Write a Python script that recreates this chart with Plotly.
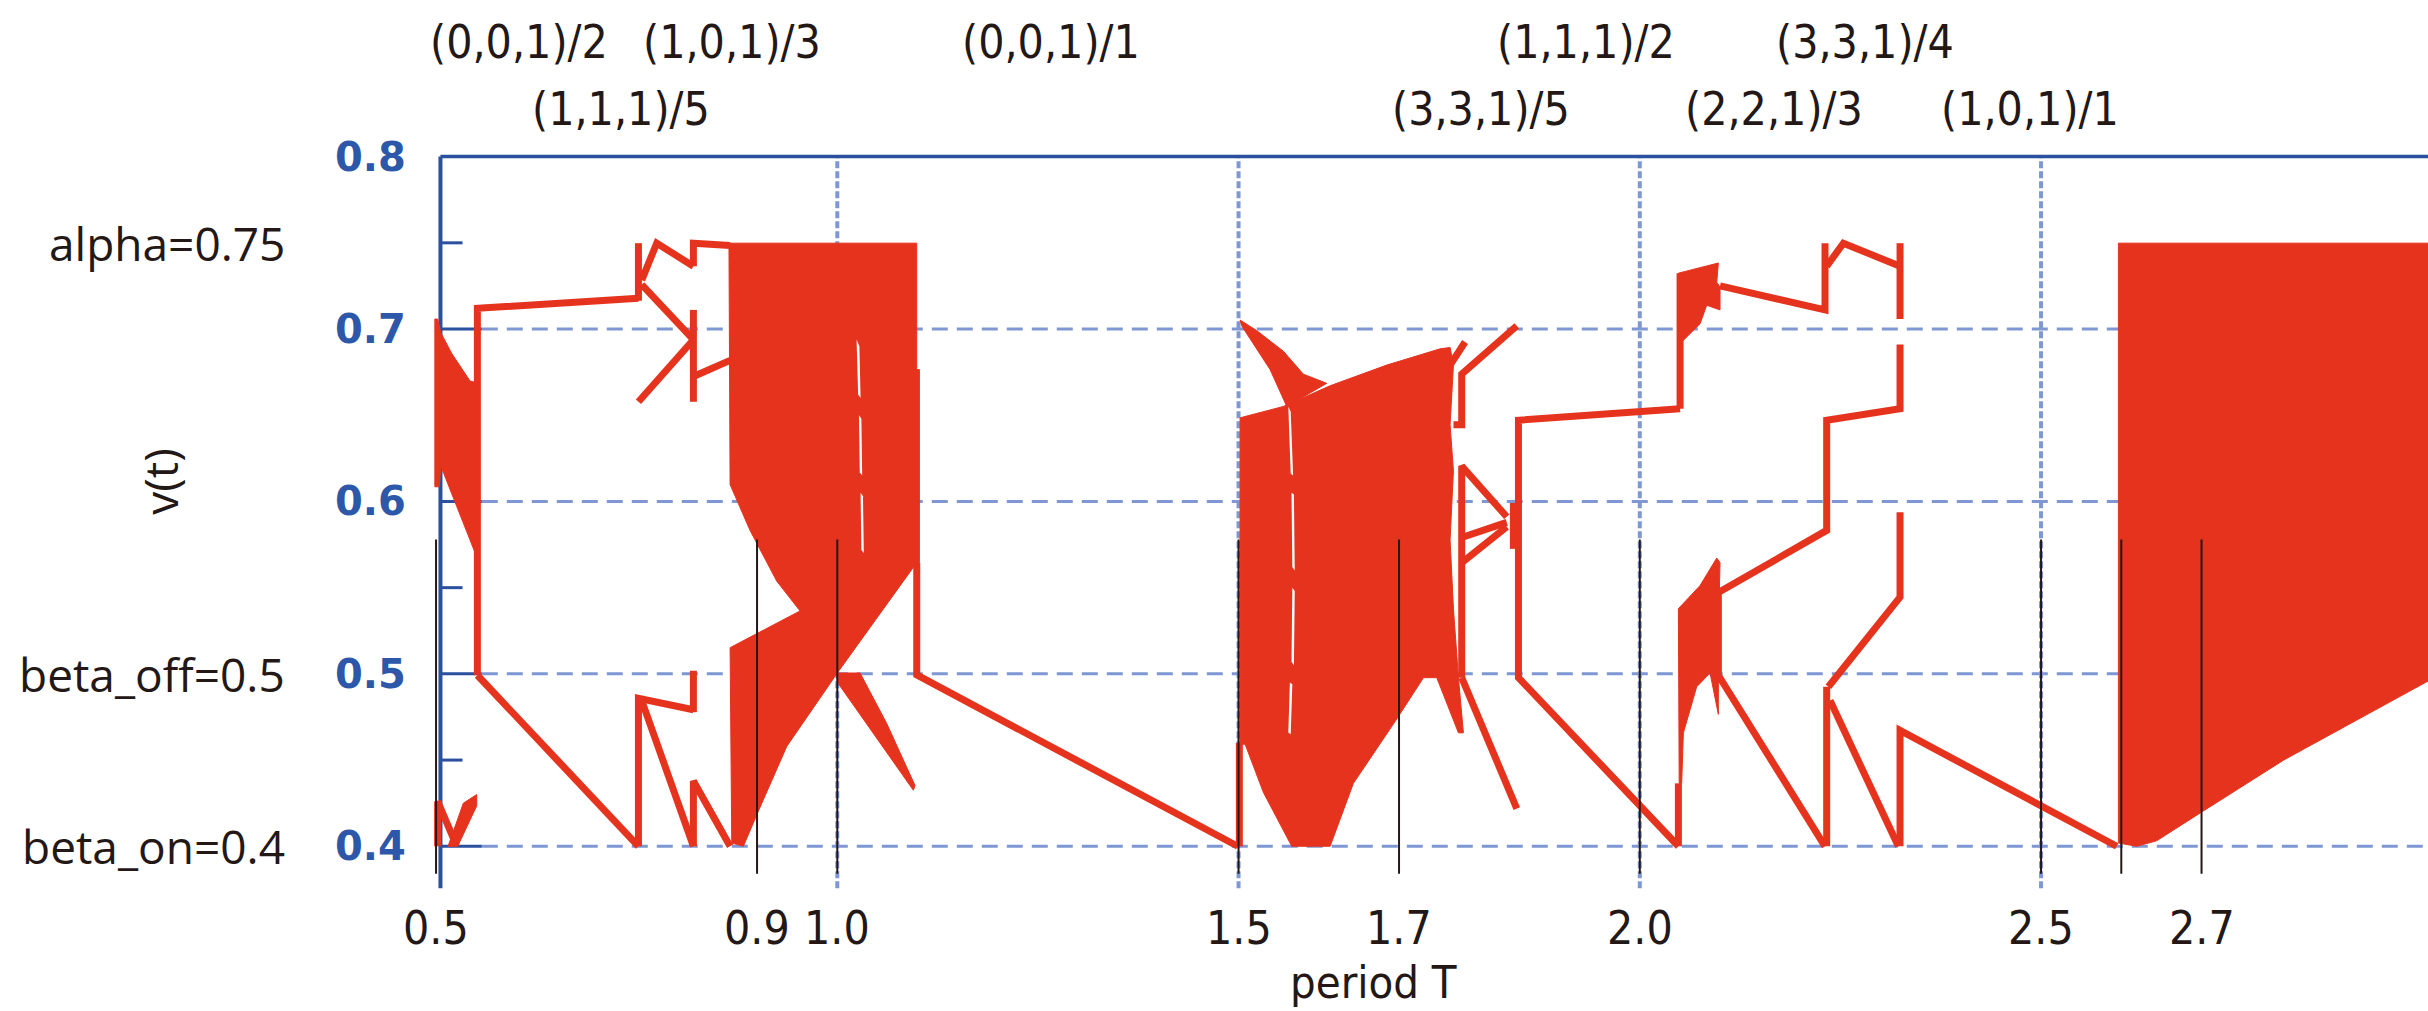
import plotly.graph_objects as go

# ---------------- data ----------------
RED = "#E6331E"

# chaotic bands (polygons: period T, v)
chaos_a = [(0.4985,0.7058),(0.5020,0.7058),(0.5060,0.6978),(0.5196,0.6858),(0.5424,0.6698),
           (0.5535,0.6685),(0.5535,0.5698),(0.5490,0.5698),(0.5060,0.6205),(0.5040,0.6085),(0.4985,0.6085)]
chaos_b = [(0.5150,0.4000),(0.5340,0.4250),(0.5507,0.4300),(0.5507,0.4235),(0.5270,0.4000)]
chaos_c = [(0.8650,0.7498),(1.0990,0.7498),(1.0990,0.6765),(1.1023,0.6765),(1.1023,0.5645),
           (1.0969,0.5632),(1.0000,0.5005),(0.9370,0.4579),(0.9017,0.4205),(0.8830,0.4000),
           (0.8685,0.4019),(0.8664,0.5152),(0.9536,0.5365),(0.9245,0.5538),(0.8913,0.5832),(0.8664,0.6098)]
chaos_d = [(1.0000,0.5005),(1.0284,0.5005),(1.0616,0.4712),(1.0969,0.4352),(1.0948,0.4325),(1.0000,0.4952)]
chaos_e = [(1.5019,0.6485),(1.5559,0.6551),(1.6141,0.6671),(1.6847,0.6791),(1.7511,0.6885),
           (1.7636,0.6893),(1.7678,0.6791),(1.7636,0.6445),(1.7678,0.6178),(1.7636,0.5778),
           (1.7678,0.5378),(1.7740,0.4978),(1.7802,0.4658),(1.7740,0.4658),(1.7470,0.4978),
           (1.7304,0.4978),(1.6971,0.4738),(1.6431,0.4365),(1.6141,0.4000),(1.5663,0.4000),
           (1.5310,0.4312),(1.5082,0.4592),(1.5019,0.4592)]
chaos_e_spike = [(1.5019,0.7052),(1.5226,0.6991),(1.5559,0.6871),(1.5808,0.6738),(1.6099,0.6685),
                 (1.5601,0.6551),(1.5393,0.6765),(1.5040,0.7018)]
chaos_f_up = [(2.0481,0.7324),(2.0834,0.7364),(2.0979,0.7383),(2.0959,0.7271),(2.1000,0.7244),
              (2.1000,0.7111),(2.0834,0.7138),(2.0751,0.7031),(2.0522,0.6925),(2.0481,0.6925)]
chaos_f_low = [(2.0481,0.5378),(2.0751,0.5512),(2.0959,0.5672),(2.1000,0.5645),(2.0979,0.5245),
               (2.0979,0.4765),(2.0876,0.5005),(2.0709,0.4925),(2.0543,0.4658),(2.0522,0.4365),(2.0491,0.4365)]
chaos_g = [(2.5964,0.7498),(2.9900,0.7498),(2.9900,0.4978),(2.8850,0.4712),(2.8020,0.4499),
           (2.7023,0.4205),(2.6441,0.4032),(2.6192,0.4000),(2.5964,0.4019)]

# white gaps inside chaotic bands (broken streaks)
gaps_c = [
    [(1.0240,0.6940),(1.0275,0.6900),(1.0290,0.6600),(1.0260,0.6620)],
    [(1.0270,0.6500),(1.0300,0.6480),(1.0310,0.6150),(1.0280,0.6170)],
    [(1.0290,0.6050),(1.0320,0.6030),(1.0330,0.5700),(1.0300,0.5720)],
]
gaps_e = [
    [(1.5620,0.6550),(1.5650,0.6520),(1.5680,0.6150),(1.5650,0.6160)],
    [(1.5660,0.6050),(1.5690,0.6040),(1.5700,0.5600),(1.5670,0.5620)],
    [(1.5670,0.5500),(1.5700,0.5480),(1.5690,0.5050),(1.5660,0.5070)],
    [(1.5640,0.4950),(1.5670,0.4940),(1.5650,0.4650),(1.5620,0.4660)],
]

# periodic branches (polylines)
branches_055_087 = [
    [(0.502,0.400),(0.502,0.426),(0.525,0.401)],
    [(0.5515,0.4992),(0.5515,0.7120),(0.7522,0.7178)],
    [(0.5515,0.4992),(0.7522,0.4000)],
    [(0.7522,0.4000),(0.7522,0.4858),(0.8207,0.4792)],
    [(0.7563,0.4845),(0.8207,0.4000)],
    [(0.8207,0.4000),(0.8207,0.4379),(0.8664,0.4000)],
    [(0.8207,0.4778),(0.8207,0.5018)],
    [(0.7522,0.7164),(0.7522,0.7498)],
    [(0.7563,0.7284),(0.7750,0.7498),(0.8207,0.7364)],
    [(0.8207,0.7364),(0.8207,0.7498),(0.8664,0.7484)],
    [(0.7563,0.7257),(0.8207,0.6938)],
    [(0.7522,0.6578),(0.8207,0.6938)],
    [(0.8207,0.6578),(0.8207,0.7111)],
    [(0.8207,0.6725),(0.8664,0.6818)],
]
branches_110_150 = [
    [(1.0990,0.5645),(1.0990,0.4994),(1.4990,0.4000)],
    [(1.5010,0.4000),(1.5010,0.4600)],
]
branches_176_205 = [
    [(1.7636,0.6791),(1.7823,0.6925)],
    [(1.7678,0.6445),(1.7781,0.6445),(1.7781,0.6738),(1.8467,0.7018)],
    [(1.7781,0.4978),(1.7781,0.6205),(1.8342,0.5911)],
    [(1.7781,0.5791),(1.8342,0.5879)],
    [(1.7781,0.5645),(1.8342,0.5853)],
    [(1.8425,0.5725),(1.8425,0.5991)],
    [(2.0502,0.6538),(1.8488,0.6471),(1.8488,0.4978),(2.0481,0.4000)],
    [(1.7781,0.4978),(1.8467,0.4219)],
]
branches_205_260 = [
    [(2.0481,0.4000),(2.0481,0.4365)],
    [(2.0502,0.6538),(2.0502,0.7324)],
    [(2.1000,0.7250),(2.2308,0.7111),(2.2308,0.7498)],
    [(2.2329,0.7364),(2.2537,0.7498),(2.3243,0.7364)],
    [(2.3243,0.7058),(2.3243,0.7498)],
    [(2.3243,0.6911),(2.3243,0.6538),(2.2329,0.6471),(2.2329,0.5832),(2.0979,0.5472),(2.0979,0.4992),(2.2308,0.4000)],
    [(2.3243,0.5938),(2.3243,0.5445),(2.2350,0.4925)],
    [(2.2329,0.4000),(2.2329,0.4925)],
    [(2.2371,0.4845),(2.3222,0.4000)],
    [(2.3243,0.4000),(2.3243,0.4672),(2.5943,0.4000)],
]

# axes / labels
y_ticks = [0.4, 0.5, 0.6, 0.7, 0.8]
y_minor = [0.45, 0.55, 0.65, 0.75]
x_grid = [1.0, 1.5, 2.0, 2.5]
x_labels = [0.5, 0.9, 1.0, 1.5, 1.7, 2.0, 2.5, 2.7]
x_marks = [0.5, 0.9, 1.0, 1.5, 1.7, 2.0, 2.5, 2.6, 2.7]
level_labels = [("alpha=0.75", 0.75), ("beta_off=0.5", 0.5), ("beta_on=0.4", 0.4)]
top_row1 = [("(0,0,1)/2", 0.6034), ("(1,0,1)/3", 0.8688), ("(0,0,1)/1", 1.2664),
            ("(1,1,1)/2", 1.9330), ("(3,3,1)/4", 2.2807)]
top_row2 = [("(1,1,1)/5", 0.7305), ("(3,3,1)/5", 1.8022), ("(2,2,1)/3", 2.1673), ("(1,0,1)/1", 2.4863)]

# ---------------- figure ----------------
X0, X1 = 0.48, 2.9822
Y0, Y1 = 0.37, 0.805
AX = 0.5055
AXIS_BLUE = "#2B50A0"
GRID_BLUE = "#7F98D3"
INK = "#231815"
NARROW = "Liberation Sans Narrow, DejaVu Sans Condensed, Liberation Sans, sans-serif"

fig = go.Figure()


def add_poly(pts, color, lw=1):
    fig.add_trace(go.Scatter(x=[p[0] for p in pts] + [pts[0][0]], y=[p[1] for p in pts] + [pts[0][1]],
                             mode="lines", fill="toself", fillcolor=color,
                             line=dict(color=color, width=lw), hoverinfo="skip"))


def add_lines(groups, width=7):
    xs, ys = [], []
    for line in groups:
        xs += [p[0] for p in line] + [None]
        ys += [p[1] for p in line] + [None]
    fig.add_trace(go.Scatter(x=xs, y=ys, mode="lines", line=dict(color=RED, width=width),
                             hoverinfo="skip", connectgaps=False))


for poly in [chaos_a, chaos_b, chaos_c, chaos_d, chaos_e, chaos_e_spike, chaos_f_up, chaos_f_low, chaos_g]:
    add_poly(poly, RED)
for grp in [branches_055_087, branches_110_150, branches_176_205, branches_205_260]:
    add_lines(grp)
for poly in gaps_c + gaps_e:
    add_poly(poly, "white", lw=0)

shapes = []
# horizontal dashed grid + major ticks
for v in y_ticks[:-1]:
    shapes.append(dict(type="line", xref="x", yref="y", x0=0.557, x1=3.1, y0=v, y1=v, layer="below",
                       line=dict(color=GRID_BLUE, width=3, dash="16px,9px")))
    shapes.append(dict(type="line", xref="x", yref="y", x0=AX, x1=0.557, y0=v, y1=v, layer="below",
                       line=dict(color=AXIS_BLUE, width=3)))
for v in y_minor:
    shapes.append(dict(type="line", xref="x", yref="y", x0=AX, x1=0.533, y0=v, y1=v, layer="below",
                       line=dict(color=AXIS_BLUE, width=3)))
# vertical dashed grid
for t in x_grid:
    shapes.append(dict(type="line", xref="x", yref="y", x0=t, x1=t, y0=0.3756, y1=0.8, layer="below",
                       line=dict(color=GRID_BLUE, width=4, dash="7px,3px")))
# axes frame
shapes.append(dict(type="line", xref="x", yref="y", x0=AX, x1=AX, y0=0.3756, y1=0.8, layer="below",
                   line=dict(color=AXIS_BLUE, width=4)))
shapes.append(dict(type="line", xref="x", yref="y", x0=AX, x1=3.1, y0=0.8, y1=0.8, layer="below",
                   line=dict(color=AXIS_BLUE, width=3.5)))
# black marker lines
for t in x_marks:
    shapes.append(dict(type="line", xref="x", yref="y", x0=t, x1=t, y0=0.384, y1=0.578, layer="above",
                       line=dict(color=INK, width=2)))

ann = []
for v in y_ticks:
    ann.append(dict(text=f"{v:.1f}", xref="paper", yref="y", x=-0.006, y=v, xanchor="right", yanchor="middle",
                    showarrow=False, font=dict(family="DejaVu Sans", size=40, color="#2D57A8", weight="bold")))
for txt, v in level_labels:
    ann.append(dict(text=txt, xref="paper", yref="y", x=-0.066, y=v, xanchor="right", yanchor="middle",
                    showarrow=False, font=dict(family="Open Sans", size=46, color=INK)))
for t in x_labels:
    ann.append(dict(text=f"{t:.1f}", xref="x", yref="paper", x=t, y=-0.04, xanchor="center", yanchor="middle",
                    showarrow=False, font=dict(family=NARROW, size=46, color=INK)))
for txt, t in top_row1:
    ann.append(dict(text=txt, xref="x", yref="paper", x=t, y=1.1413, xanchor="center", yanchor="middle",
                    showarrow=False, font=dict(family=NARROW, size=46, color=INK)))
for txt, t in top_row2:
    ann.append(dict(text=txt, xref="x", yref="paper", x=t, y=1.052, xanchor="center", yanchor="middle",
                    showarrow=False, font=dict(family=NARROW, size=46, color=INK)))
ann.append(dict(text="period T", xref="x", yref="paper", x=1.6676, y=-0.112, xanchor="center", yanchor="middle",
                showarrow=False, font=dict(family=NARROW, size=45, color=INK)))
ann.append(dict(text="v(t)", xref="paper", yref="y", x=-0.1295, y=0.612, xanchor="center", yanchor="middle",
                textangle=-90, showarrow=False, font=dict(family="Open Sans", size=46, color=INK)))

fig.update_layout(
    width=2428, height=1011,
    margin=dict(l=420, r=0, t=148, b=113),
    paper_bgcolor="white", plot_bgcolor="white",
    showlegend=False,
    xaxis=dict(range=[X0, X1], visible=False, fixedrange=True),
    yaxis=dict(range=[Y0, Y1], visible=False, fixedrange=True),
    shapes=shapes, annotations=ann,
)

fig.write_html("out.html", config={"displayModeBar": False},
               post_script="document.body.style.margin='0';document.body.style.overflow='hidden';")
